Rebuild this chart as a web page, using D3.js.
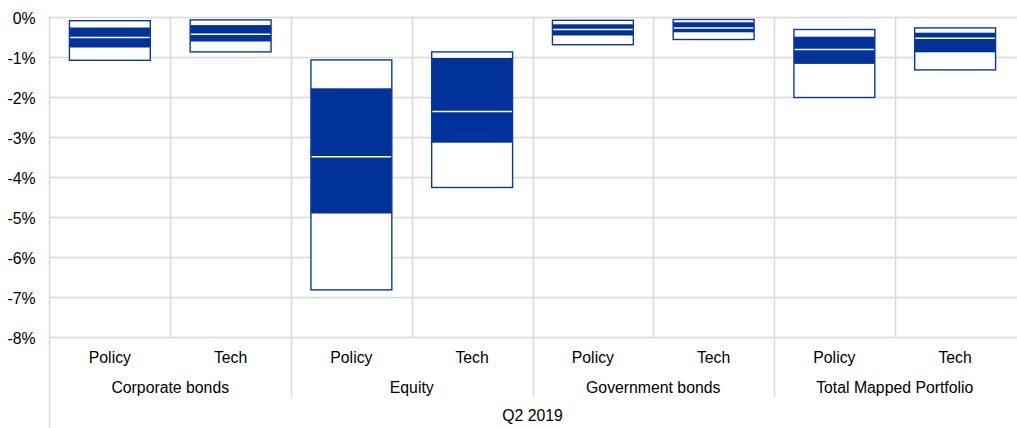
<!DOCTYPE html>
<html>
<head>
<meta charset="utf-8">
<script src="https://cdn.jsdelivr.net/npm/d3@7"></script>
<style>
  body { margin: 0; background: #fff; }
  text { font-family: "Liberation Sans", Arial, sans-serif; font-size: 15.8px; fill: #000; }
</style>
</head>
<body>
<script>
const groups = ['Corporate bonds', 'Equity', 'Government bonds', 'Total Mapped Portfolio'];
const types = ['Policy', 'Tech'];
const period = 'Q2 2019';
const yTicks = [0, -1, -2, -3, -4, -5, -6, -7, -8];

// values in %, one per column (group x type)
const rangeTop = [-0.10, -0.08, -1.08, -0.88, -0.09, -0.07, -0.32, -0.28];
const boxTop = [-0.27, -0.21, -1.79, -1.03, -0.19, -0.14, -0.50, -0.40];
const median = [-0.52, -0.44, -3.50, -2.37, -0.32, -0.28, -0.82, -0.54];
const boxBottom = [-0.77, -0.62, -4.92, -3.15, -0.47, -0.39, -1.18, -0.89];
const rangeBottom = [-1.09, -0.88, -6.83, -4.27, -0.70, -0.57, -2.02, -1.33];

const width = 1017, height = 428;
const plot = { left: 49.5, right: 1015.5, top: 16.7, bottom: 336.7 };
const blue = '#003299';

const columns = [];
groups.forEach((g) => types.forEach((t) => columns.push({ group: g, type: t })));
columns.forEach((c, i) => {
  c.key = c.group + '|' + c.type;
  c.rangeTop = rangeTop[i];
  c.boxTop = boxTop[i];
  c.median = median[i];
  c.boxBottom = boxBottom[i];
  c.rangeBottom = rangeBottom[i];
});

const svg = d3.select('body').append('svg')
  .attr('width', width)
  .attr('height', height);

const y = d3.scaleLinear().domain([0, -8]).range([plot.top, plot.bottom]);
const x = d3.scaleBand().domain(columns.map((c) => c.key)).range([plot.left, plot.right]);
const xGroup = d3.scaleBand().domain(groups).range([plot.left, plot.right]);

// horizontal gridlines
svg.append('g')
  .selectAll('line')
  .data(yTicks)
  .enter()
  .append('line')
  .attr('x1', plot.left)
  .attr('x2', width)
  .attr('y1', (d) => Math.round(y(d)) + 0.5)
  .attr('y2', (d) => Math.round(y(d)) + 0.5)
  .attr('stroke', '#d9d9d9')
  .attr('stroke-width', 1.5);

// vertical separators: between types (to -8%), between groups (through labels)
svg.append('g')
  .selectAll('line')
  .data(columns.filter((c) => c.type === 'Tech'))
  .enter()
  .append('line')
  .attr('x1', (d) => Math.round(x(d.key)) + 0.5)
  .attr('x2', (d) => Math.round(x(d.key)) + 0.5)
  .attr('y1', plot.top)
  .attr('y2', plot.bottom)
  .attr('stroke', '#d9d9d9')
  .attr('stroke-width', 1.5);

svg.append('g')
  .selectAll('line')
  .data(groups.slice(1))
  .enter()
  .append('line')
  .attr('x1', (d) => Math.round(xGroup(d)) + 0.5)
  .attr('x2', (d) => Math.round(xGroup(d)) + 0.5)
  .attr('y1', plot.top)
  .attr('y2', 397)
  .attr('stroke', '#d9d9d9')
  .attr('stroke-width', 1.5);

svg.append('line')
  .attr('x1', plot.left).attr('x2', plot.left)
  .attr('y1', plot.top).attr('y2', height)
  .attr('stroke', '#d9d9d9')
  .attr('stroke-width', 1.5);

// y axis labels
const yAxis = d3.axisLeft(y)
  .tickValues(yTicks)
  .tickFormat((d) => d + '%')
  .tickSize(0)
  .tickPadding(0);

svg.append('g')
  .attr('transform', 'translate(35.5,1.5)')
  .call(yAxis)
  .call((g) => g.select('.domain').remove())
  .selectAll('text')
  .attr('font-family', null)
  .attr('font-size', null)
  .attr('fill', '#000');

// boxes
const bw = x.bandwidth() * 0.67;
const off = (x.bandwidth() - bw) / 2;
const boxes = svg.append('g')
  .selectAll('g')
  .data(columns)
  .enter()
  .append('g');

boxes.append('rect')
  .attr('x', (d) => x(d.key) + off)
  .attr('y', (d) => y(d.rangeTop))
  .attr('width', bw)
  .attr('height', (d) => y(d.rangeBottom) - y(d.rangeTop))
  .attr('fill', '#fff');

boxes.append('rect')
  .attr('x', (d) => x(d.key) + off)
  .attr('y', (d) => y(d.boxTop))
  .attr('width', bw)
  .attr('height', (d) => y(d.boxBottom) - y(d.boxTop))
  .attr('fill', blue);

boxes.append('line')
  .attr('x1', (d) => x(d.key) + off)
  .attr('x2', (d) => x(d.key) + off + bw)
  .attr('y1', (d) => y(d.median))
  .attr('y2', (d) => y(d.median))
  .attr('stroke', '#fff')
  .attr('stroke-width', 1.5);

boxes.append('rect')
  .attr('x', (d) => x(d.key) + off)
  .attr('y', (d) => y(d.rangeTop))
  .attr('width', bw)
  .attr('height', (d) => y(d.rangeBottom) - y(d.rangeTop))
  .attr('fill', 'none')
  .attr('stroke', '#0a38a0')
  .attr('stroke-width', 1.4);

// category labels
svg.append('g')
  .selectAll('text')
  .data(columns)
  .enter()
  .append('text')
  .attr('x', (d) => x(d.key) + x.bandwidth() / 2)
  .attr('y', 363)
  .attr('text-anchor', 'middle')
  .text((d) => d.type);

svg.append('g')
  .selectAll('text')
  .data(groups)
  .enter()
  .append('text')
  .attr('x', (d) => xGroup(d) + xGroup.bandwidth() / 2)
  .attr('y', 393)
  .attr('text-anchor', 'middle')
  .text((d) => d);

svg.append('text')
  .attr('x', (plot.left + plot.right) / 2)
  .attr('y', 421)
  .attr('text-anchor', 'middle')
  .text(period);
</script>
</body>
</html>
